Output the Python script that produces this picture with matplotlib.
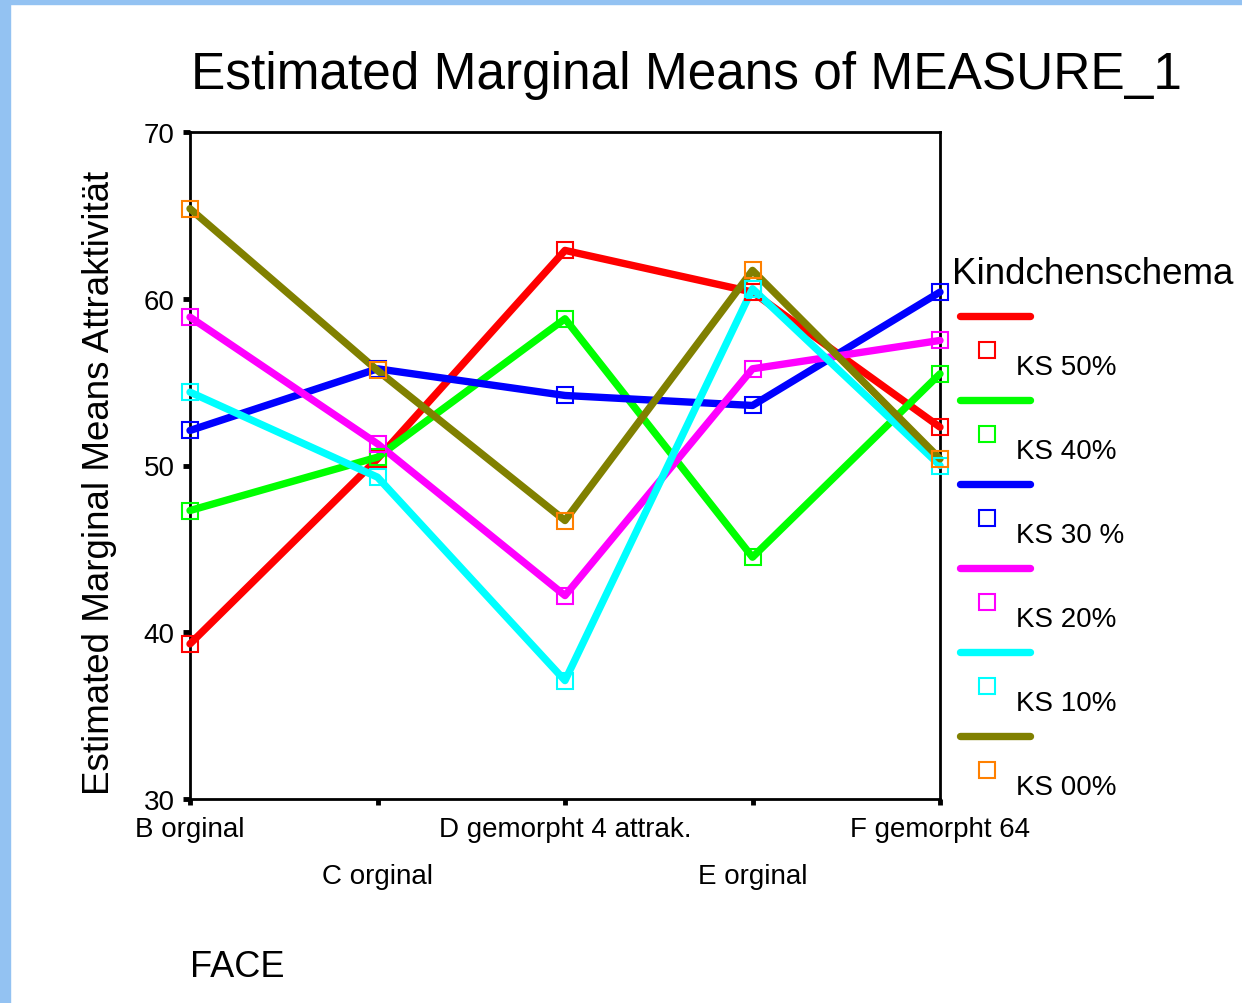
import matplotlib.pyplot as plt
from matplotlib.lines import Line2D
from matplotlib.patches import Rectangle

plt.rcParams['font.family'] = ['Liberation Sans', 'DejaVu Sans']

faces = ["B orginal", "C orginal", "D gemorpht 4 attrak.", "E orginal", "F gemorpht 64"]
groups = ["KS 50%", "KS 40%", "KS 30 %", "KS 20%", "KS 10%", "KS 00%"]

ks50 = [39.3, 50.4, 62.9, 60.4, 52.3]
ks40 = [47.3, 50.5, 58.8, 44.5, 55.5]
ks30 = [52.1, 55.8, 54.2, 53.6, 60.4]
ks20 = [58.9, 51.3, 42.2, 55.8, 57.5]
ks10 = [54.4, 49.3, 37.1, 60.6, 50.0]
ks00 = [65.4, 55.7, 46.7, 61.7, 50.4]
series = [ks50, ks40, ks30, ks20, ks10, ks00]

line_colors = ["#ff0000", "#00ff00", "#0000ff", "#ff00ff", "#00ffff", "#808000"]
marker_colors = ["#ff0000", "#00ff00", "#0000ff", "#ff00ff", "#00ffff", "#ff8000"]

W, H = 1242, 1004
fig = plt.figure(figsize=(W / 100, H / 100), dpi=100)
fig.patch.set_facecolor("white")

# blue slide border
fig.add_artist(Rectangle((0, 1 - 5 / H), 1, 5 / H, transform=fig.transFigure,
                         color="#93c2f2", zorder=0))
fig.add_artist(Rectangle((0, 0), 10 / W, 1, transform=fig.transFigure,
                         color="#93c2f2", zorder=0))

ax = fig.add_axes([190 / W, 1 - 800 / H, 750 / W, 667 / H])
x = list(range(len(faces)))
for vals, lc, mc in zip(series, line_colors, marker_colors):
    ax.plot(x, vals, color=lc, lw=5.3, solid_capstyle="round", zorder=3, clip_on=False)
    ax.plot(x, vals, ls="none", marker="s", ms=11.5, mfc="none", mec=mc, mew=1.5,
            zorder=4, clip_on=False)

ax.set_xlim(0, 4)
ax.set_ylim(30, 70)
ax.set_yticks([30, 40, 50, 60, 70])
ax.set_xticks(x)
ax.set_xticklabels(faces)
for s in ax.spines.values():
    s.set_linewidth(2)
ax.tick_params(axis="y", length=5, width=3.5, labelsize=20, pad=6)
ax.tick_params(axis="x", length=4, width=3.5, labelsize=20)
for i, t in enumerate(ax.xaxis.get_major_ticks()):
    t.set_pad(42 if i % 2 else 8)

ax.set_ylabel("Estimated Marginal Means Attraktivität", fontsize=26.5)
ax.yaxis.set_label_coords(-0.097, 0.475)
fig.text(686 / W, 1 - 75 / H, "Estimated Marginal Means of MEASURE_1",
         fontsize=37, ha="center", va="center")
fig.text(190 / W, 1 - 968 / H, "FACE", fontsize=26, ha="left", va="center")

# legend
fig.text(952 / W, 1 - 274 / H, "Kindchenschema", fontsize=26.5, ha="left", va="center")
for i, (g, lc, mc) in enumerate(zip(groups, line_colors, marker_colors)):
    yl = 317 + 84 * i
    fig.add_artist(Line2D([960 / W, 1030 / W], [1 - yl / H, 1 - yl / H],
                          transform=fig.transFigure, color=lc, lw=5.3,
                          solid_capstyle="round"))
    fig.add_artist(Line2D([987 / W], [1 - (yl + 34) / H], transform=fig.transFigure,
                          ls="none", marker="s", ms=11.5, mfc="none", mec=mc, mew=1.5))
    fig.text(1016 / W, 1 - (yl + 51) / H, g, fontsize=20, ha="left", va="center")

fig.savefig("out.png", dpi=100)
